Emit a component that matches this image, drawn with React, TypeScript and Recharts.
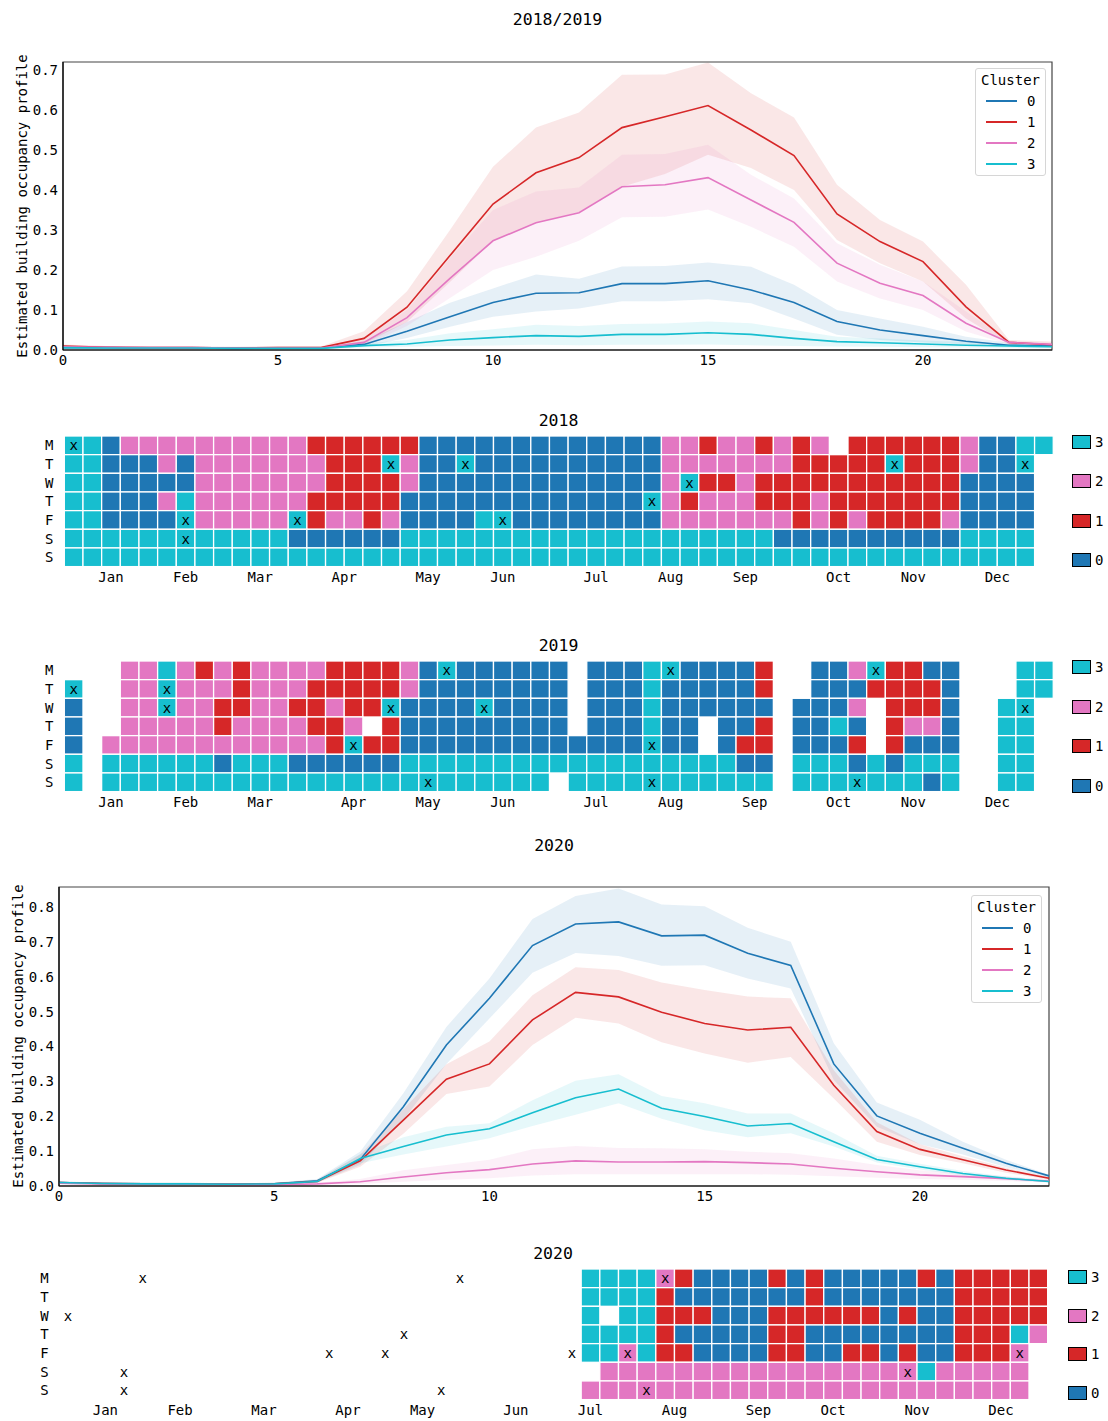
import React from 'react';
import { ComposedChart, Area, Line, XAxis, YAxis, ReferenceArea, Legend, ScatterChart, Scatter } from 'recharts';

const FONT = '"DejaVu Sans Mono", monospace';
const CLUSTER_COLORS = ['#1f77b4', '#d62728', '#e377c2', '#17becf'];
const CLUSTER_NAMES = ['0', '1', '2', '3'];
const HOURS = [0, 1, 2, 3, 4, 5, 6, 7, 8, 9, 10, 11, 12, 13, 14, 15, 16, 17, 18, 19, 20, 21, 22, 23];

// ---- 2018/2019 hourly profiles ----
const c0Mean1819 = [0.006, 0.006, 0.005, 0.005, 0.004, 0.005, 0.005, 0.014, 0.047, 0.083, 0.119, 0.142, 0.143, 0.166, 0.166, 0.173, 0.150, 0.119, 0.071, 0.050, 0.036, 0.022, 0.012, 0.010];
const c0Low1819 = [0.003, 0.003, 0.003, 0.003, 0.002, 0.003, 0.003, 0.008, 0.030, 0.058, 0.083, 0.096, 0.104, 0.122, 0.122, 0.127, 0.117, 0.079, 0.038, 0.025, 0.019, 0.014, 0.008, 0.006];
const c0High1819 = [0.010, 0.009, 0.008, 0.008, 0.007, 0.008, 0.008, 0.022, 0.070, 0.118, 0.154, 0.189, 0.178, 0.209, 0.210, 0.219, 0.208, 0.163, 0.100, 0.079, 0.058, 0.033, 0.018, 0.014];
const c1Mean1819 = [0.010, 0.007, 0.006, 0.006, 0.005, 0.006, 0.006, 0.029, 0.107, 0.236, 0.365, 0.443, 0.481, 0.556, 0.583, 0.611, 0.550, 0.486, 0.340, 0.271, 0.221, 0.108, 0.019, 0.013];
const c1Low1819 = [0.006, 0.004, 0.004, 0.004, 0.003, 0.004, 0.004, 0.015, 0.070, 0.170, 0.273, 0.318, 0.345, 0.408, 0.440, 0.488, 0.455, 0.400, 0.275, 0.217, 0.171, 0.079, 0.013, 0.008];
const c1High1819 = [0.014, 0.010, 0.009, 0.009, 0.008, 0.009, 0.009, 0.047, 0.147, 0.300, 0.458, 0.556, 0.594, 0.688, 0.689, 0.719, 0.642, 0.581, 0.413, 0.325, 0.271, 0.163, 0.025, 0.021];
const c2Mean1819 = [0.008, 0.007, 0.006, 0.006, 0.005, 0.005, 0.005, 0.019, 0.081, 0.179, 0.273, 0.318, 0.343, 0.408, 0.413, 0.431, 0.375, 0.319, 0.217, 0.167, 0.136, 0.067, 0.019, 0.014];
const c2Low1819 = [0.004, 0.004, 0.003, 0.003, 0.003, 0.003, 0.003, 0.010, 0.060, 0.130, 0.200, 0.233, 0.273, 0.332, 0.333, 0.351, 0.308, 0.258, 0.171, 0.129, 0.100, 0.046, 0.014, 0.010];
const c2High1819 = [0.012, 0.010, 0.009, 0.009, 0.008, 0.008, 0.008, 0.030, 0.100, 0.230, 0.350, 0.396, 0.406, 0.488, 0.490, 0.513, 0.438, 0.379, 0.267, 0.213, 0.171, 0.096, 0.023, 0.018];
const c3Mean1819 = [0.006, 0.005, 0.005, 0.005, 0.004, 0.004, 0.004, 0.011, 0.015, 0.025, 0.031, 0.036, 0.034, 0.039, 0.039, 0.043, 0.039, 0.029, 0.021, 0.018, 0.015, 0.012, 0.010, 0.008];
const c3Low1819 = [0.003, 0.003, 0.003, 0.003, 0.002, 0.002, 0.002, 0.006, 0.008, 0.010, 0.011, 0.013, 0.012, 0.013, 0.013, 0.014, 0.012, 0.010, 0.009, 0.008, 0.007, 0.006, 0.005, 0.004];
const c3High1819 = [0.009, 0.008, 0.008, 0.008, 0.007, 0.007, 0.007, 0.016, 0.025, 0.042, 0.052, 0.063, 0.060, 0.065, 0.066, 0.071, 0.067, 0.050, 0.033, 0.029, 0.024, 0.020, 0.015, 0.012];

// ---- 2020 hourly profiles ----
const c0Mean20 = [0.010, 0.007, 0.006, 0.006, 0.005, 0.006, 0.015, 0.076, 0.227, 0.404, 0.538, 0.689, 0.751, 0.757, 0.717, 0.719, 0.667, 0.632, 0.350, 0.201, 0.151, 0.108, 0.065, 0.029];
const c0Low20 = [0.006, 0.004, 0.004, 0.004, 0.003, 0.004, 0.010, 0.060, 0.190, 0.350, 0.480, 0.611, 0.668, 0.659, 0.631, 0.633, 0.595, 0.566, 0.304, 0.170, 0.120, 0.090, 0.054, 0.024];
const c0High20 = [0.013, 0.010, 0.009, 0.009, 0.008, 0.009, 0.020, 0.099, 0.266, 0.456, 0.595, 0.765, 0.831, 0.853, 0.807, 0.802, 0.740, 0.700, 0.409, 0.239, 0.190, 0.127, 0.075, 0.032];
const c1Mean20 = [0.010, 0.007, 0.006, 0.006, 0.005, 0.006, 0.013, 0.072, 0.189, 0.306, 0.350, 0.476, 0.555, 0.542, 0.498, 0.466, 0.447, 0.455, 0.289, 0.156, 0.105, 0.075, 0.046, 0.022];
const c1Low20 = [0.006, 0.004, 0.004, 0.004, 0.003, 0.004, 0.009, 0.055, 0.150, 0.264, 0.285, 0.404, 0.482, 0.466, 0.412, 0.380, 0.353, 0.370, 0.251, 0.127, 0.089, 0.065, 0.038, 0.018];
const c1High20 = [0.013, 0.010, 0.009, 0.009, 0.008, 0.009, 0.018, 0.090, 0.220, 0.349, 0.414, 0.547, 0.627, 0.619, 0.583, 0.562, 0.543, 0.538, 0.332, 0.183, 0.120, 0.085, 0.052, 0.026];
const c2Mean20 = [0.008, 0.006, 0.005, 0.005, 0.004, 0.004, 0.006, 0.012, 0.026, 0.038, 0.047, 0.063, 0.072, 0.069, 0.069, 0.070, 0.067, 0.063, 0.051, 0.041, 0.032, 0.027, 0.021, 0.014];
const c2Low20 = [0.005, 0.004, 0.003, 0.003, 0.002, 0.002, 0.003, 0.006, 0.012, 0.018, 0.022, 0.030, 0.034, 0.034, 0.034, 0.034, 0.034, 0.032, 0.028, 0.024, 0.020, 0.018, 0.014, 0.010];
const c2High20 = [0.011, 0.009, 0.008, 0.008, 0.007, 0.007, 0.009, 0.020, 0.045, 0.060, 0.075, 0.105, 0.115, 0.109, 0.108, 0.105, 0.098, 0.094, 0.079, 0.060, 0.045, 0.037, 0.028, 0.019];
const c3Mean20 = [0.010, 0.007, 0.006, 0.006, 0.005, 0.006, 0.013, 0.079, 0.113, 0.146, 0.164, 0.210, 0.253, 0.278, 0.223, 0.199, 0.172, 0.179, 0.127, 0.076, 0.055, 0.036, 0.022, 0.013];
const c3Low20 = [0.006, 0.004, 0.004, 0.004, 0.003, 0.004, 0.009, 0.065, 0.090, 0.113, 0.137, 0.172, 0.204, 0.237, 0.193, 0.160, 0.140, 0.151, 0.113, 0.067, 0.047, 0.030, 0.018, 0.010];
const c3High20 = [0.013, 0.010, 0.009, 0.009, 0.008, 0.009, 0.017, 0.092, 0.140, 0.170, 0.180, 0.246, 0.302, 0.320, 0.258, 0.237, 0.208, 0.208, 0.151, 0.087, 0.064, 0.043, 0.027, 0.016];

const Y_TICKS_1819 = [0, 0.1, 0.2, 0.3, 0.4, 0.5, 0.6, 0.7];
const Y_TICKS_20 = [0, 0.1, 0.2, 0.3, 0.4, 0.5, 0.6, 0.7, 0.8];
const X_TICKS = [0, 5, 10, 15, 20];

// ---- calendar heatmaps: one string per weekday (M..S), one char per week; '.' = no data ----
const MONTH_LABELS = ['Jan', 'Feb', 'Mar', 'Apr', 'May', 'Jun', 'Jul', 'Aug', 'Sep', 'Oct', 'Nov', 'Dec'];
const DAY_LABELS = ['M', 'T', 'W', 'T', 'F', 'S', 'S'];
const DAY_TICKS = [0.5, 1.5, 2.5, 3.5, 4.5, 5.5, 6.5];
const CLUSTER_LEGEND_ORDER = [3, 2, 1, 0];

const MONTH_TICKS_2018 = [2.5, 6.5, 10.5, 15, 19.5, 23.5, 28.5, 32.5, 36.5, 41.5, 45.5, 50];
const MONTH_TICKS_2019 = [2.5, 6.5, 10.5, 15.5, 19.5, 23.5, 28.5, 32.5, 37, 41.5, 45.5, 50];
const MONTH_TICKS_2020 = [2.5, 6.5, 11, 15.5, 19.5, 24.5, 28.5, 33, 37.5, 41.5, 46, 50.5];

const ROWS_2018 = [
  '33 0 2222222222 111111 0000000000000 221221212 . 111111 2 00 33',
  '33 000 2 0 2222222 111 3 2 00 3 0000000000 2222222 11111 3 111 2 00 3 .',
  '33 00000 2222222 1111 2 0000000000000 2 3 11 2 11111111111 0000 .',
  '33 000 2 3 222222 11111 0000000000000 3 2 1 222 111 2 1111111 0000 .',
  '33 0000 3 22222 3 1 22 1 2 0000 3 3 00000000 2222222 1 2 1 2 1111 2 0000 .',
  '333333333333 000000 33333333333333333333 0000000000 3333 .',
  '3333333333333333333333333333333333333333333333333333 .',
];
const MARKS_2018 = [[0, 0], [17, 1], [21, 1], [44, 1], [51, 1], [33, 2], [31, 3], [6, 4], [12, 4], [23, 4], [6, 5]];

const ROWS_2019 = [
  '... 2 2 3 2 1 2 1 2222 1111 2 0 3 000000 . 000 3 3 0000 1 .. 00 2 3 11 00 ... 33',
  '3 .. 2 2 3 222 1 222 11111 2 00000000 . 000 3 00000 1 .. 000 1111 0 ... 33',
  '0 .. 22 3 22 11 22 11 2 11 3 0000 3 0000 . 000 3 000000 . 000 2 . 111 0 .. 3 3 .',
  '0 .. 22222 1 2222 11 2 . 1 000000000 . 000 3 00 . 00 1 . 00 3 0 . 1 22 0 .. 33 .',
  '0 . 222222222222 1 3 11 0000000000000 3 00 . 0 11 . 000 1 . 1 000 .. 33 .',
  '3 . 333333 0 333 000000 333333333333333333 00 . 333 0 3 0 333 .. 33 .',
  '3 . 333333333333333333333333 . 33333333333 . 3333333 0 3 .. 33 .',
];
const MARKS_2019 = [[0, 1], [5, 1], [20, 0], [32, 0], [43, 0], [5, 2], [17, 2], [22, 2], [51, 2], [15, 4], [31, 4], [19, 6], [31, 6], [42, 6]];

const ROWS_2020 = [
  '............................ 3333 2 1 0000 1 0 1 00000 1 0 11111',
  '............................ 3333 1 0000000 1 0000000 11111',
  '............................ 3 . 33 111 000 111111 0 1 00 11111',
  '............................ 3333 1 00000 11 00000000 111 3 2',
  '............................ 33 2 3 11 0000 11 00 11 0 1 00 111 2 .',
  '............................. 2222222222222222 2 3 22222 .',
  '............................ 222222222222222222222222 .',
];
const MARKS_2020 = [[4, 0], [21, 0], [32, 0], [18, 3], [0, 2], [14, 4], [17, 4], [27, 4], [30, 4], [51, 4], [3, 5], [45, 5], [3, 6], [20, 6], [31, 6]];

const WEEKS = 53;
const CELL = 18.66;
const PAGE_W = 1108;
const TICK_STYLE = { fontFamily: FONT, fontSize: 14, fill: '#000' };

function buildProfile(means: number[][], lows: number[][], highs: number[][]) {
  return HOURS.map((h, i) => {
    const row: any = { hour: h };
    for (let c = 0; c < 4; c++) {
      row['m' + c] = means[c][i];
      row['b' + c] = [lows[c][i], highs[c][i]];
    }
    return row;
  });
}

const renderLineLegend = () => (
  <div style={{ width: 71, height: 108, boxSizing: 'border-box', border: '1px solid #d6d6d6', borderRadius: 3, background: 'rgba(255,255,255,0.85)', position: 'relative', fontFamily: FONT, fontSize: 14, color: '#000' }}>
    <div style={{ position: 'absolute', left: 0, width: '100%', top: 3, textAlign: 'center', lineHeight: '17px' }}>Cluster</div>
    {CLUSTER_NAMES.map((name, i) => (
      <div key={name} style={{ position: 'absolute', left: 0, top: 24 + 21 * i, height: 17, width: '100%' }}>
        <div style={{ position: 'absolute', left: 10, top: 7, width: 31, height: 2, background: CLUSTER_COLORS[i] }} />
        <div style={{ position: 'absolute', left: 51, top: 0, lineHeight: '17px' }}>{name}</div>
      </div>
    ))}
  </div>
);

function ProfileChart(props: any) {
  const { top, plotTop, plotLeft, plotRight, plotBottom, yMax, yTicks, data, legendLeft, legendTop } = props;
  const xAxisH = 30;
  const height = plotBottom - top + xAxisH;
  return (
    <div style={{ position: 'absolute', left: 0, top }}>
      <ComposedChart width={PAGE_W} height={height} data={data} margin={{ top: plotTop - top, right: PAGE_W - plotRight, left: 0, bottom: 0 }}>
        <XAxis dataKey="hour" type="number" domain={[0, 23]} ticks={X_TICKS} interval={0} tickLine={false} tickSize={0} tickMargin={5} axisLine={{ stroke: '#000', strokeWidth: 1.2 }} height={xAxisH} tick={TICK_STYLE} />
        <YAxis type="number" domain={[0, yMax]} ticks={yTicks} interval={0} tickFormatter={(v: number) => v.toFixed(1)} tickLine={false} tickSize={0} tickMargin={5} axisLine={{ stroke: '#000', strokeWidth: 1.2 }} width={plotLeft} tick={TICK_STYLE} />
        {[0, 1, 2, 3].map((c) => (
          <Area key={'b' + c} type="linear" dataKey={'b' + c} stroke="none" fill={CLUSTER_COLORS[c]} fillOpacity={0.11} isAnimationActive={false} activeDot={false} />
        ))}
        {[0, 1, 2, 3].map((c) => (
          <Line key={'m' + c} type="linear" dataKey={'m' + c} stroke={CLUSTER_COLORS[c]} strokeWidth={1.6} dot={false} activeDot={false} isAnimationActive={false} />
        ))}
        <ReferenceArea x1={0} x2={23} y1={0} y2={yMax} fill="none" stroke="#444" strokeWidth={1.2} ifOverflow="visible" />
        <Legend content={renderLineLegend} layout="vertical" align="center" verticalAlign="middle" wrapperStyle={{ position: 'absolute', left: legendLeft, top: legendTop - top, width: 71, height: 108 }} />
      </ComposedChart>
    </div>
  );
}

const renderCell = (p: any) => {
  const { cx, cy, payload } = p;
  return <rect x={cx - CELL / 2} y={cy - CELL / 2} width={CELL} height={CELL} fill={CLUSTER_COLORS[payload.cluster]} stroke="#ffffff" strokeWidth={1.3} />;
};

const renderCross = (p: any) => {
  const { cx, cy } = p;
  return (
    <text x={cx} y={cy} textAnchor="middle" dominantBaseline="central" fontFamily={FONT} fontSize={14} fill="#000">x</text>
  );
};

function makeHeatLegend(first: number, step: number) {
  return () => (
    <div style={{ position: 'relative', width: 40, height: 140, fontFamily: FONT, fontSize: 14, color: '#000' }}>
      {CLUSTER_LEGEND_ORDER.map((c, i) => (
        <div key={c} style={{ position: 'absolute', left: 0, top: first + step * i - 7 }}>
          <div style={{ position: 'absolute', left: 0, top: 0, width: 19, height: 14, boxSizing: 'border-box', border: '1px solid #000', background: CLUSTER_COLORS[c] }} />
          <div style={{ position: 'absolute', left: 23, top: -1, lineHeight: '16px' }}>{c}</div>
        </div>
      ))}
    </div>
  );
}

function CalendarHeatmap(props: any) {
  const { plotTop, plotLeft, rows, marks, monthTicks, legendLeft, legendFirst, legendStep, dayMargin } = props;
  const topPad = 16;
  const plotW = WEEKS * CELL;
  const plotH = 7 * CELL;
  const cells: any[] = [];
  rows.forEach((row: string, day: number) => {
    row.replace(/\s+/g, '').split('').forEach((ch, week) => {
      if (ch !== '.') cells.push({ week: week + 0.5, day: day + 0.5, cluster: Number(ch) });
    });
  });
  const crosses = marks.map(([week, day]: number[]) => ({ week: week + 0.5, day: day + 0.5 }));
  const xAxisH = 26;
  const height = topPad + plotH + xAxisH;
  return (
    <div style={{ position: 'absolute', left: 0, top: plotTop - topPad }}>
      <ScatterChart width={PAGE_W} height={height} margin={{ top: topPad, right: PAGE_W - plotLeft - plotW, left: 0, bottom: 0 }}>
        <XAxis type="number" dataKey="week" domain={[0, WEEKS]} ticks={monthTicks} interval={0} tickFormatter={(v: number, i: number) => MONTH_LABELS[i]} axisLine={false} tickLine={false} tickSize={0} tickMargin={5} height={xAxisH} tick={TICK_STYLE} />
        <YAxis type="number" dataKey="day" domain={[0, 7]} reversed ticks={DAY_TICKS} interval={0} tickFormatter={(v: number) => DAY_LABELS[Math.floor(v)]} axisLine={false} tickLine={false} tickSize={0} tickMargin={dayMargin} width={plotLeft} tick={TICK_STYLE} />
        <Scatter data={cells} shape={renderCell} isAnimationActive={false} />
        <Scatter data={crosses} shape={renderCross} isAnimationActive={false} />
        <Legend content={makeHeatLegend(legendFirst, legendStep)} layout="vertical" align="center" verticalAlign="middle" wrapperStyle={{ position: 'absolute', left: legendLeft, top: topPad, width: 40, height: 140 }} />
      </ScatterChart>
    </div>
  );
}

const TITLES = [
  { text: '2018/2019', cx: 557.5, cy: 20 },
  { text: '2018', cx: 558.5, cy: 421 },
  { text: '2019', cx: 558.5, cy: 646 },
  { text: '2020', cx: 554, cy: 846 },
  { text: '2020', cx: 553, cy: 1254 },
];

const Y_LABELS = [
  { text: 'Estimated building occupancy profile', cx: 22, cy: 206 },
  { text: 'Estimated building occupancy profile', cx: 18, cy: 1036 },
];

export default function App() {
  const data1819 = buildProfile(
    [c0Mean1819, c1Mean1819, c2Mean1819, c3Mean1819],
    [c0Low1819, c1Low1819, c2Low1819, c3Low1819],
    [c0High1819, c1High1819, c2High1819, c3High1819]
  );
  const data20 = buildProfile(
    [c0Mean20, c1Mean20, c2Mean20, c3Mean20],
    [c0Low20, c1Low20, c2Low20, c3Low20],
    [c0High20, c1High20, c2High20, c3High20]
  );
  return (
    <div style={{ position: 'absolute', left: 0, top: 0, width: PAGE_W, height: 1421, background: '#fff', fontFamily: FONT, overflow: 'hidden' }}>
      {TITLES.map((t, i) => (
        <div key={'t' + i} style={{ position: 'absolute', left: t.cx - 150, top: t.cy - 11, width: 300, height: 22, lineHeight: '22px', textAlign: 'center', fontSize: 16.5, color: '#000' }}>{t.text}</div>
      ))}
      {Y_LABELS.map((t, i) => (
        <div key={'y' + i} style={{ position: 'absolute', left: t.cx - 200, top: t.cy - 10, width: 400, height: 20, lineHeight: '20px', textAlign: 'center', fontSize: 14, color: '#000', transform: 'rotate(-90deg)' }}>{t.text}</div>
      ))}
      <ProfileChart top={40} plotTop={62} plotLeft={63} plotRight={1052} plotBottom={350} yMax={0.72} yTicks={Y_TICKS_1819} data={data1819} legendLeft={975} legendTop={68} />
      <CalendarHeatmap plotTop={435.7} plotLeft={64.3} rows={ROWS_2018} marks={MARKS_2018} monthTicks={MONTH_TICKS_2018} legendLeft={1072} legendFirst={6.5} legendStep={39.3} dayMargin={11} />
      <CalendarHeatmap plotTop={660.7} plotLeft={64.3} rows={ROWS_2019} marks={MARKS_2019} monthTicks={MONTH_TICKS_2019} legendLeft={1072} legendFirst={6.5} legendStep={39.5} dayMargin={11} />
      <ProfileChart top={860} plotTop={887} plotLeft={59} plotRight={1049} plotBottom={1186} yMax={0.857} yTicks={Y_TICKS_20} data={data20} legendLeft={971} legendTop={895} />
      <CalendarHeatmap plotTop={1268.7} plotLeft={58.7} rows={ROWS_2020} marks={MARKS_2020} monthTicks={MONTH_TICKS_2020} legendLeft={1068} legendFirst={8.3} legendStep={38.7} dayMargin={10} />
    </div>
  );
}
